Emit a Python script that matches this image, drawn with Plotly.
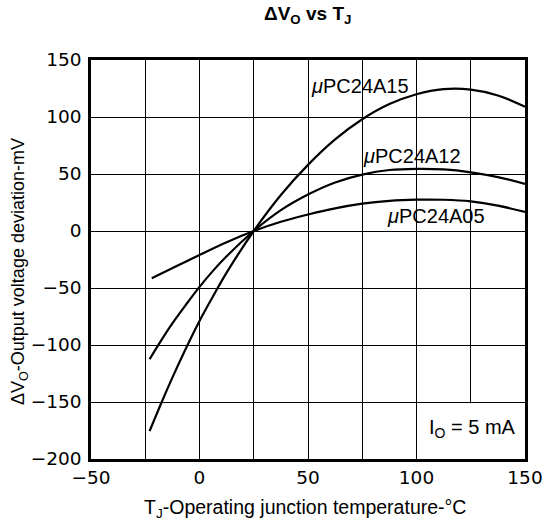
import plotly.graph_objects as go

# ---- data ----
t_a15 = [-23, -17.5, -12.5, -6, 0, 6, 12.5, 25, 37.5, 50, 62.5, 75, 87.5, 100, 112.5, 125, 137.5, 150]
v_a15 = [-175.5, -150.4, -128.6, -102, -79, -58.1, -36.5, 0, 31.6, 58, 80.3, 98, 111.3, 120, 124.4, 124, 118.9, 109]

t_a12 = [-23, -18, -12.5, -6, 0, 6, 12.5, 25, 37.5, 50, 62.5, 75, 87.5, 100, 112.5, 125, 137.5, 150]
v_a12 = [-112.5, -97, -81, -64, -49, -35.4, -22.2, 0, 18.3, 32, 42.6, 49.5, 53.5, 54.5, 54, 51.5, 47.3, 41.3]

t_a05 = [-22, -11, 0, 12.5, 25, 37.5, 50, 62.5, 75, 87.5, 100, 112.5, 125, 137.5, 150]
v_a05 = [-41.5, -31.2, -21, -9.8, 0, 8.1, 14.5, 19.9, 24, 26.5, 27.5, 27.4, 26, 22.3, 16.7]

series_names = ["μPC24A15", "μPC24A12", "μPC24A05"]
label_pos = [(50.3, 127.5), (74.6, 66), (85.6, 13)]

x_ticks = [-50, 0, 50, 100, 150]
y_ticks = [150, 100, 50, 0, -50, -100, -150, -200]

TEXT_FONT = "Liberation Sans, Arial, sans-serif"
TICK_FONT = "DejaVu Sans, sans-serif"

# plot-area geometry in pixels
L, R, T, B = 91, 525, 60, 459
W, H = 548, 524


def px_to_paper(px, py):
    return (px - L) / (R - L), (B - py) / (B - T)


fig = go.Figure()
for t, v in [(t_a15, v_a15), (t_a12, v_a12), (t_a05, v_a05)]:
    fig.add_trace(go.Scatter(x=t, y=v, mode="lines",
                             line=dict(color="black", width=2.2, shape="spline", smoothing=1.0),
                             showlegend=False, hoverinfo="skip"))

annotations = []
for name, (lx, ly) in zip(series_names, label_pos):
    annotations.append(dict(x=lx, y=ly, xref="x", yref="y",
                            text="<i>μ</i>" + name[1:], showarrow=False,
                            xanchor="left", yanchor="middle",
                            font=dict(family=TEXT_FONT, size=20, color="black")))

annotations.append(dict(x=105, y=-173, xref="x", yref="y",
                        text="I<sub>O</sub> = 5 mA", showarrow=False,
                        xanchor="left", yanchor="middle",
                        font=dict(family=TEXT_FONT, size=20, color="black")))

tx, ty = px_to_paper(307, 15)
annotations.append(dict(x=tx, y=ty, xref="paper", yref="paper",
                        text="<b>ΔV<sub>O</sub> vs T<sub>J</sub></b>", showarrow=False,
                        xanchor="center", yanchor="middle",
                        font=dict(family=TEXT_FONT, size=19, color="black")))

xx, xy = px_to_paper(305, 508)
annotations.append(dict(x=xx, y=xy, xref="paper", yref="paper",
                        text="T<sub>J</sub>-Operating junction temperature-°C", showarrow=False,
                        xanchor="center", yanchor="middle",
                        font=dict(family=TEXT_FONT, size=19.5, color="black")))

yx, yy = px_to_paper(19, 272)
annotations.append(dict(x=yx, y=yy, xref="paper", yref="paper",
                        text="ΔV<sub>O</sub>-Output voltage deviation-mV", showarrow=False,
                        textangle=-90, xanchor="center", yanchor="middle",
                        font=dict(family=TEXT_FONT, size=18, color="black")))

fig.update_layout(
    template="none",
    width=W, height=H,
    margin=dict(l=L, r=W - R, t=T, b=H - B, pad=0, autoexpand=False),
    paper_bgcolor="white", plot_bgcolor="white",
    font=dict(family=TEXT_FONT, size=18, color="black"),
    annotations=annotations,
    shapes=[dict(type="rect", xref="x", yref="y", x0=100.6, x1=150, y0=-200, y1=-151,
                 fillcolor="white", line=dict(width=0), layer="between")],
)

fig.update_xaxes(range=[-50, 150], tickvals=x_ticks, ticktext=[str(v).replace("-", "−") for v in x_ticks],
                 showgrid=True, gridcolor="black", gridwidth=1,
                 minor=dict(dtick=25, tick0=0, showgrid=True, gridcolor="black", gridwidth=1, ticks=""),
                 showline=True, linecolor="black", linewidth=2.5, mirror=True,
                 ticks="", zeroline=False, ticklabelstandoff=0, automargin=False,
                 tickfont=dict(family=TICK_FONT, size=18.5, color="black"))
fig.update_yaxes(range=[-200, 150], tickvals=y_ticks, ticktext=[str(v).replace("-", "−") for v in y_ticks],
                 showgrid=True, gridcolor="black", gridwidth=1,
                 showline=True, linecolor="black", linewidth=2.5, mirror=True,
                 ticks="", zeroline=False, ticklabelstandoff=3, automargin=False,
                 tickfont=dict(family=TICK_FONT, size=18.5, color="black"))

fig.write_html("out.html", config={"displayModeBar": False},
               post_script="document.body.style.margin='0';")
